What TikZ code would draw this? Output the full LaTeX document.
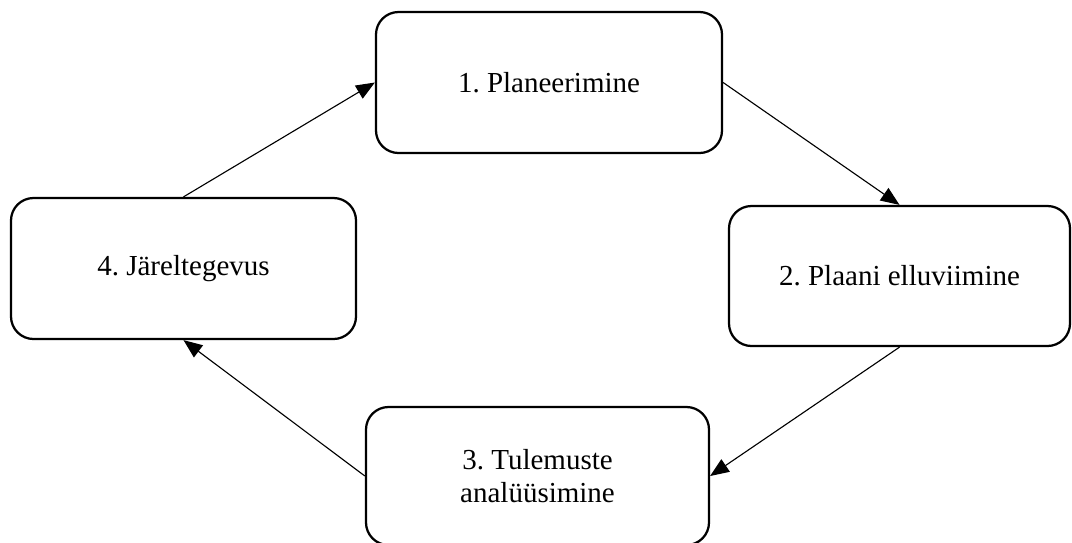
\documentclass[tikz,border=0pt]{standalone}
\usepackage{fontspec}
\setmainfont{Liberation Serif}
\usetikzlibrary{arrows.meta}
\frenchspacing
\begin{document}
\begin{tikzpicture}[x=0.4pt,y=-0.4pt,
  stage/.style={draw, line width=0.9pt, rounded corners=9pt,
    minimum width=138pt, minimum height=56.4pt, inner sep=0pt,
    align=center, font=\fontsize{11.6}{13.2}\selectfont\frenchspacing},
  flow/.style={-{Triangle[length=7.5pt,width=6pt]}, line width=0.45pt}]
\useasboundingbox (0,0) rectangle (1072,542);
\clip (0,0) rectangle (1072,542);
\node[stage, minimum width=138.4pt] (s1) at (549,82.5) {1. Planeerimine};
\node[stage, minimum width=136.4pt, minimum height=56pt] (s2) at (899.5,276) {2. Plaani elluviimine};
\node[stage, minimum width=137.2pt, minimum height=55.2pt] (s3) at (537.5,476) {3. Tulemuste\\analüüsimine};
\node[stage] (s4) at (183.5,268.5) {4. Järeltegevus};
\draw[flow] (s4.north) -- (s1.west);
\draw[flow] (s1.east) -- (s2.north);
\draw[flow] (s2.south) -- (s3.east);
\draw[flow] (s3.west) -- (s4.south);
\end{tikzpicture}
\end{document}
